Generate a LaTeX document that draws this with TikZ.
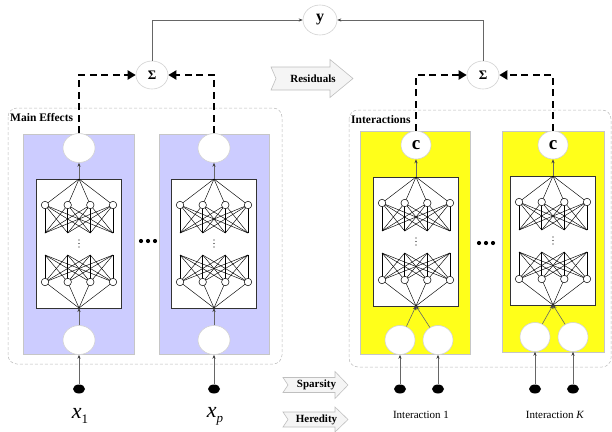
\documentclass[tikz,border=0pt]{standalone}
\usepackage{fontspec}
\setmainfont{Liberation Serif}
\usetikzlibrary{shapes.geometric,arrows.meta,calc}
\definecolor{blueP}{RGB}{204,204,255}
\definecolor{yellowP}{RGB}{255,255,26}
\tikzset{
 outer/.style={draw=gray!55, dash pattern=on 3pt off 2pt, rounded corners=9pt, line width=0.5pt},
 bluecol/.style={draw=gray!45, fill=blueP, line width=0.5pt},
 yellowcol/.style={draw=gray!45, fill=yellowP, line width=0.5pt},
 circ/.style={ellipse, draw=gray!35, fill=white, line width=0.6pt, minimum width=32pt, minimum height=29pt, inner sep=0pt},
 blackdot/.style={ellipse, fill=black, minimum width=12pt, minimum height=9pt, inner sep=0pt},
 thinarr/.style={draw=black!60, line width=0.6pt, -{Stealth[length=4pt,width=3.2pt,black!75]}},
 dasharr/.style={line width=2.3pt, dash pattern=on 7pt off 4.5pt, -{Triangle[length=8pt,width=9pt]}},
 nnbox/.style={draw=black!80, fill=white, line width=0.6pt, minimum width=85pt, minimum height=129pt, inner sep=0pt},
 nnnode/.style={circle, draw, fill=white, line width=0.5pt, minimum size=7.5pt, inner sep=0pt},
 nnline/.style={line width=0.45pt},
 bannerpath/.style={draw=gray!50, fill=gray!8, line width=0.6pt},
 bannertext/.style={font=\bfseries\fontsize{11}{12}\selectfont, inner sep=0pt},
 boxlabel/.style={anchor=west, font=\bfseries\fontsize{11.5}{12}\selectfont, inner sep=1pt},
 biglabel/.style={font=\fontsize{22}{22}\selectfont, inner sep=0pt},
 intlabel/.style={font=\fontsize{11}{12}\selectfont, inner sep=0pt},
}
% prefix, cx, top y
\newcommand{\nnet}[3]{%
 \begin{scope}[shift={(#2,#3)}]
  \node[nnbox] (#1box) at (0,64.5) {};
  \coordinate (#1top) at (0,0);
  \coordinate (#1bot) at (0,129);
  \foreach \i/\xx in {1/-34,2/-11.3,3/11.3,4/34}{
    \coordinate (#1n\i) at (\xx,26);
    \coordinate (#1a\i) at (\xx,54);
    \coordinate (#1b\i) at (\xx,76);
    \coordinate (#1m\i) at (\xx,103);
  }
  \foreach \i in {1,...,4}{
    \draw[nnline] (#1top) -- (#1n\i);
    \draw[nnline] (#1bot) -- (#1m\i);
    \foreach \j in {1,...,4}{
      \draw[nnline] (#1n\i) -- (#1a\j);
      \draw[nnline] (#1b\j) -- (#1m\i);
    }
  }
  \foreach \i in {1,...,4}{
    \node[nnnode] at (#1n\i) {};
    \node[nnnode] at (#1m\i) {};
  }
  \foreach \yy in {61,64.5,68} \fill (0,\yy) circle (0.7pt);
 \end{scope}}
% name, left x, center y, length, head start, body half, head half, text
\newcommand{\banner}[8]{%
 \draw[bannerpath] (#2,#3-#6) -- (#2+#5,#3-#6) -- (#2+#5,#3-#7) -- (#2+#4,#3)
   -- (#2+#5,#3+#7) -- (#2+#5,#3+#6) -- (#2,#3+#6) -- (#2+5,#3) -- cycle;
 \node[bannertext] (#1) at (#2+#4/2+1,#3) {#8};}
\begin{document}
\begin{tikzpicture}[x=1pt,y=-1pt]
\useasboundingbox (0,0) rectangle (612,431);
% outer frames
\draw[outer] (8,108) rectangle (282,364);
\draw[outer] (349,110) rectangle (611,367);
\node[boxlabel] (melab) at (9,118) {Main Effects};
\node[boxlabel] (itlab) at (350,120) {Interactions};
% columns
\draw[bluecol] (23,134) rectangle (134,354);
\draw[bluecol] (159,134) rectangle (269,354);
\draw[yellowcol] (360,131) rectangle (470,354);
\draw[yellowcol] (502,131) rectangle (604,352);
% networks
\nnet{ma}{79}{179}
\nnet{mb}{214}{179}
\nnet{ia}{416}{177}
\nnet{ib}{553}{176}
% main effect nodes
\node[circ] (maC) at (79,148) {};
\node[circ] (mbC) at (214,148) {};
\node[circ] (maI) at (79,340) {};
\node[circ] (mbI) at (214,340) {};
\node[blackdot] (maD) at (79,389) {};
\node[blackdot] (mbD) at (214,389) {};
\draw[thinarr] (maD) -- (maI);
\draw[thinarr] (mbD) -- (mbI);
\draw[thinarr] (maI) -- (mabot);
\draw[thinarr] (mbI) -- (mbbot);
\draw[thinarr] (matop) -- (maC);
\draw[thinarr] (mbtop) -- (mbC);
% interaction nodes
\tikzset{cnode/.style={circ, minimum width=30pt, minimum height=28pt, font=\bfseries\fontsize{19}{19}\selectfont}}
\node[cnode] (iaC) at (416,145) {c};
\node[cnode] (ibC) at (553,145) {c};
\node[circ, minimum width=30pt, minimum height=29pt] (iaL) at (400,340) {};
\node[circ, minimum width=30pt, minimum height=29pt] (iaR) at (438,340) {};
\node[circ, minimum width=30pt, minimum height=29pt] (ibL) at (535,337) {};
\node[circ, minimum width=30pt, minimum height=29pt] (ibR) at (573,337) {};
\node[blackdot] (iaLD) at (400,389) {};
\node[blackdot] (iaRD) at (438,389) {};
\node[blackdot] (ibLD) at (535,389) {};
\node[blackdot] (ibRD) at (573,389) {};
\draw[thinarr] (iaLD) -- (iaL);
\draw[thinarr] (iaRD) -- (iaR);
\draw[thinarr] (ibLD) -- (ibL);
\draw[thinarr] (ibRD) -- (ibR);
\draw[thinarr] (iaL) -- (iabot);
\draw[thinarr] (iaR) -- (iabot);
\draw[thinarr] (ibL) -- (ibbot);
\draw[thinarr] (ibR) -- (ibbot);
\draw[thinarr] (iatop) -- (iaC);
\draw[thinarr] (ibtop) -- (ibC);
% sums and output
\tikzset{signode/.style={circ, minimum width=32pt, minimum height=28pt, font=\bfseries\fontsize{13}{13}\selectfont}}
\node[signode] (sigL) at (152,75) {Σ};
\node[signode] (sigR) at (483,75) {Σ};
\node[circ, minimum width=34pt, minimum height=30pt, font=\bfseries\fontsize{16}{16}\selectfont] (yout) at (320,20) {y};
\draw[dasharr] (maC.north) |- (sigL.west);
\draw[dasharr] (mbC.north) |- (sigL.east);
\draw[dasharr] (iaC.north) |- (sigR.west);
\draw[dasharr] (ibC.north) |- (sigR.east);
\draw[thinarr] (sigL.north) |- (yout.west);
\draw[thinarr] (sigR.north) |- (yout.east);
% ellipsis dots
\foreach \xx in {141,148,155} \fill (\xx,241) circle (2.1pt);
\foreach \xx in {479,486,493} \fill (\xx,243) circle (2.1pt);
% banners
\banner{resid}{271}{78.5}{82}{59}{11.5}{19}{Residuals}
\banner{spars}{283}{385}{65}{52}{7.5}{13.5}{Sparsity}
\banner{hered}{283}{419.5}{65}{52}{7.5}{12.5}{Heredity}
% labels
\node[biglabel] (xone) at (80,416) {\textit{x}\raisebox{-5pt}{\fontsize{13}{13}\selectfont 1}};
\node[biglabel] (xp) at (215,416) {\textit{x}\raisebox{-5pt}{\fontsize{13}{13}\selectfont\textit{p}}};
\node[intlabel] (ilab1) at (421,415) {Interaction 1};
\node[intlabel] (ilabK) at (555,415) {Interaction \textit{K}};
\end{tikzpicture}
\end{document}
